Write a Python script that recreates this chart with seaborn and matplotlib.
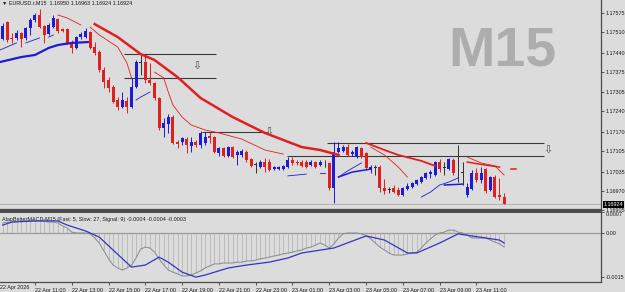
import numpy as np
import pandas as pd
import matplotlib
matplotlib.use("Agg")
import matplotlib.pyplot as plt
import matplotlib.transforms as mtransforms
import seaborn as sns

# ---------------- data ----------------
opens = [1.17486, 1.17544, 1.17490, 1.17490, 1.17507, 1.17490, 1.17524, 1.17551, 1.17568, 1.17531,
         1.17503, 1.17527, 1.17554, 1.17520, 1.17520, 1.17476, 1.17456, 1.17493, 1.17493, 1.17510,
         1.17459, 1.17442, 1.17381, 1.17347, 1.17323, 1.17279, 1.17255, 1.17276, 1.17255, 1.17323,
         1.17406, 1.17408, 1.17347, 1.17337, 1.17286, 1.17184, 1.17197, 1.17221, 1.17136, 1.17136,
         1.17146, 1.17123, 1.17136, 1.17126, 1.17133, 1.17157, 1.17153, 1.17099, 1.17116, 1.17089,
         1.17119, 1.17092, 1.17092, 1.17102, 1.17078, 1.17058, 1.17051, 1.17068, 1.17068, 1.17044,
         1.17044, 1.17044, 1.17051, 1.17075, 1.17068, 1.17068, 1.17068, 1.17058, 1.17068, 1.17058,
         1.17068, 1.17065, 1.16980, 1.17102, 1.17106, 1.17119, 1.17095, 1.17085, 1.17116, 1.17099,
         1.17044, 1.17048, 1.17051, 1.16980, 1.16973, 1.16980, 1.16973, 1.16956, 1.16976, 1.16983,
         1.16993, 1.17000, 1.17014, 1.17027, 1.17024, 1.17068, 1.17048, 1.17044, 1.17075, 1.17034,
         1.17031, 1.16956, 1.16976, 1.17031, 1.17007, 1.17044, 1.16973, 1.17017, 1.16956, 1.16950]
closes = [1.17531, 1.17483, 1.17486, 1.17507, 1.17486, 1.17524, 1.17551, 1.17568, 1.17527, 1.17500,
          1.17534, 1.17558, 1.17514, 1.17514, 1.17473, 1.17456, 1.17493, 1.17503, 1.17514, 1.17456,
          1.17439, 1.17381, 1.17340, 1.17320, 1.17272, 1.17255, 1.17279, 1.17255, 1.17323, 1.17408,
          1.17406, 1.17347, 1.17337, 1.17286, 1.17184, 1.17201, 1.17221, 1.17133, 1.17129, 1.17150,
          1.17126, 1.17136, 1.17126, 1.17167, 1.17153, 1.17150, 1.17102, 1.17116, 1.17089, 1.17119,
          1.17085, 1.17102, 1.17106, 1.17075, 1.17055, 1.17058, 1.17068, 1.17051, 1.17041, 1.17051,
          1.17051, 1.17055, 1.17075, 1.17065, 1.17065, 1.17055, 1.17051, 1.17068, 1.17051, 1.17068,
          1.17068, 1.16980, 1.17102, 1.17116, 1.17119, 1.17092, 1.17102, 1.17119, 1.17085, 1.17048,
          1.17051, 1.17048, 1.16980, 1.16970, 1.16973, 1.16966, 1.16956, 1.16980, 1.16987, 1.16997,
          1.17007, 1.17017, 1.17031, 1.17034, 1.17068, 1.17044, 1.17048, 1.17078, 1.17031, 1.17034,
          1.17031, 1.16983, 1.17031, 1.17007, 1.17031, 1.16970, 1.17017, 1.16949, 1.16949, 1.16924]
highs = [1.17541, 1.17548, 1.17507, 1.17517, 1.17510, 1.17527, 1.17558, 1.17575, 1.17588, 1.17534,
         1.17541, 1.17568, 1.17558, 1.17524, 1.17524, 1.17483, 1.17497, 1.17510, 1.17524, 1.17514,
         1.17476, 1.17449, 1.17391, 1.17357, 1.17330, 1.17289, 1.17306, 1.17289, 1.17354, 1.17415,
         1.17432, 1.17429, 1.17405, 1.17340, 1.17289, 1.17218, 1.17231, 1.17228, 1.17143, 1.17153,
         1.17153, 1.17153, 1.17143, 1.17174, 1.17170, 1.17170, 1.17157, 1.17119, 1.17119, 1.17123,
         1.17123, 1.17109, 1.17112, 1.17109, 1.17082, 1.17068, 1.17075, 1.17082, 1.17078, 1.17055,
         1.17055, 1.17058, 1.17085, 1.17085, 1.17075, 1.17075, 1.17075, 1.17075, 1.17072, 1.17075,
         1.17075, 1.17068, 1.17136, 1.17136, 1.17126, 1.17129, 1.17109, 1.17123, 1.17119, 1.17102,
         1.17058, 1.17058, 1.17058, 1.17010, 1.16983, 1.16990, 1.16983, 1.16983, 1.16997, 1.17000,
         1.17010, 1.17021, 1.17034, 1.17041, 1.17072, 1.17078, 1.17068, 1.17082, 1.17082, 1.17126,
         1.17068, 1.16997, 1.17041, 1.17048, 1.17051, 1.17048, 1.17021, 1.17024, 1.17014, 1.16963]
lows = [1.17483, 1.17476, 1.17473, 1.17483, 1.17459, 1.17483, 1.17500, 1.17544, 1.17524, 1.17473,
        1.17500, 1.17524, 1.17507, 1.17510, 1.17469, 1.17439, 1.17452, 1.17486, 1.17490, 1.17452,
        1.17432, 1.17374, 1.17320, 1.17306, 1.17269, 1.17245, 1.17252, 1.17235, 1.17252, 1.17320,
        1.17364, 1.17337, 1.17330, 1.17279, 1.17177, 1.17153, 1.17167, 1.17129, 1.17116, 1.17126,
        1.17099, 1.17102, 1.17119, 1.17116, 1.17126, 1.17133, 1.17099, 1.17089, 1.17085, 1.17085,
        1.17082, 1.17058, 1.17085, 1.17068, 1.17051, 1.17031, 1.17048, 1.17034, 1.17038, 1.17041,
        1.17041, 1.17041, 1.17048, 1.17058, 1.17058, 1.17051, 1.17048, 1.17055, 1.17048, 1.17055,
        1.17051, 1.16973, 1.16929, 1.17099, 1.17102, 1.17089, 1.17089, 1.17082, 1.17082, 1.17041,
        1.17031, 1.17024, 1.16966, 1.16959, 1.16963, 1.16963, 1.16953, 1.16953, 1.16973, 1.16980,
        1.16990, 1.16997, 1.17010, 1.17014, 1.17021, 1.17034, 1.17024, 1.17041, 1.17024, 1.17000,
        1.16990, 1.16949, 1.16973, 1.17000, 1.16997, 1.16963, 1.16970, 1.16946, 1.16939, 1.16924]

# moving-average style segments: (bar index, price)
ma_red_thick_idx = [20, 25, 30, 33, 38, 43, 50, 57, 65, 69, 73]
ma_red_thick_val = [1.17537, 1.17493, 1.17435, 1.17415, 1.17357, 1.17286, 1.17221, 1.17167, 1.17119, 1.17109, 1.17092]
ma_red_mid_idx = [79, 83, 86, 91, 94]
ma_red_mid_val = [1.17133, 1.17109, 1.17092, 1.17072, 1.17055]
ma_red_mid2_idx = [101, 104, 108]
ma_red_mid2_val = [1.17068, 1.17060, 1.17051]
ma_red_dash_idx = [110.4, 111.5]
ma_red_dash_val = [1.17044, 1.17044]
ma_red_thin_a_idx = [12, 14, 17]
ma_red_thin_a_val = [1.17568, 1.17558, 1.17534]
ma_red_thin_b_idx = [19, 21, 25, 27, 28]
ma_red_thin_b_val = [1.17527, 1.17500, 1.17459, 1.17405, 1.17354]
ma_red_thin_c_idx = [33, 35, 36, 37, 39, 41, 44, 47, 52, 57, 61]
ma_red_thin_c_val = [1.17374, 1.17354, 1.17306, 1.17262, 1.17221, 1.17194, 1.17177, 1.17167, 1.17146, 1.17109, 1.17095]
ma_red_thin_d_idx = [80, 83, 86, 88]
ma_red_thin_d_val = [1.17119, 1.17092, 1.17051, 1.17017]
ma_red_thin_e_idx = [101, 104, 107, 109]
ma_red_thin_e_val = [1.17085, 1.17065, 1.17055, 1.17024]

ma_blue_thick_idx = [-0.6, 4, 7, 10, 12, 15, 18.5]
ma_blue_thick_val = [1.17408, 1.17425, 1.17432, 1.17456, 1.17466, 1.17473, 1.17476]
ma_blue_thick2_idx = [73, 76, 80]
ma_blue_thick2_val = [1.17017, 1.17034, 1.17044]
ma_blue_thick3_idx = [96, 100]
ma_blue_thick3_val = [1.16990, 1.16993]
ma_blue_thin_segments = [
    ([-0.6, 3], [1.17449, 1.17473]),
    ([5, 8], [1.17473, 1.17490]),
    ([10, 11], [1.17493, 1.17500]),
    ([29, 30, 32], [1.17279, 1.17289, 1.17306]),
    ([62, 66], [1.17021, 1.17027]),
    ([69, 70], [1.17031, 1.17031]),
    ([73, 75, 78], [1.17017, 1.17038, 1.17065]),
    ([91, 93, 95, 97, 99], [1.16949, 1.16966, 1.16990, 1.17000, 1.17014]),
]

# horizontal level lines: (price, start idx, end idx)
levels = [(1.17435, 26.4, 46.4), (1.17354, 26.4, 46.4), (1.17170, 43.4, 57.5),
          (1.17134, 70.5, 117.7), (1.17089, 61.8, 117.7)]
arrows = [(42.3, 1.17395), (57.9, 1.17170), (118.6, 1.17109)]

price_ticks = [1.17575, 1.17510, 1.17440, 1.17375, 1.17305, 1.17240, 1.17170, 1.17105, 1.17035, 1.16970, 1.16905]
last_price = 1.16924

macd = [0.00034, 0.00037, 0.00037, 0.00039, 0.00041, 0.00041, 0.00041, 0.00041, 0.00041, 0.00039,
        0.00037, 0.00037, 0.00034, 0.00024, 0.00017, 0.00003, 0.0, 0.0, 0.0, -0.00003,
        -0.00017, -0.00034, -0.00061, -0.00088, -0.00109, -0.00119, -0.00126, -0.00119, -0.00109, -0.00085,
        -0.00054, -0.00048, -0.00051, -0.00065, -0.00088, -0.00109, -0.00126, -0.00133, -0.00139, -0.00146,
        -0.00146, -0.00143, -0.00136, -0.00129, -0.00119, -0.00112, -0.00105, -0.00105, -0.00102, -0.00102,
        -0.00102, -0.00099, -0.00099, -0.00095, -0.00095, -0.00092, -0.00088, -0.00085, -0.00082, -0.00078,
        -0.00075, -0.00071, -0.00068, -0.00065, -0.00061, -0.00058, -0.00051, -0.00048, -0.00041, -0.00034,
        -0.00041, -0.00051, -0.00037, -0.00017, -0.00003, 0.0, 0.0, 0.0, -0.00003, -0.00010,
        -0.00020, -0.00034, -0.00048, -0.00058, -0.00068, -0.00075, -0.00075, -0.00075, -0.00071, -0.00068,
        -0.00065, -0.00051, -0.00034, -0.00020, -0.00007, 0.0, 0.00003, 0.00010, 0.00010, 0.00003,
        0.0, -0.00007, -0.00017, -0.00017, -0.00017, -0.00017, -0.00024, -0.00031, -0.00037, -0.00048]
signal_idx = [0, 2, 7, 12, 14, 18, 21, 24, 28, 31, 34, 36, 39, 42, 44, 49, 53, 58, 62, 65,
              72, 79, 83, 88, 90, 95, 99, 102, 108, 109]
signal_val = [0.00027, 0.00037, 0.00041, 0.00041, 0.00027, 0.00007, -0.00014, -0.00058, -0.00116, -0.00109,
              -0.00082, -0.00099, -0.00133, -0.00150, -0.00143, -0.00119, -0.00109, -0.00099, -0.00085, -0.00068,
              -0.00051, -0.00010, -0.00024, -0.00068, -0.00068, -0.00034, -0.00003, -0.00010, -0.00024, -0.00034]
macd_ticks = [0.0007, 0.0, -0.0015]
macd_tick_labels = ["0.0007", "0.00", "-0.0015"]

time_tick_idx = [7, 15, 23, 31, 39, 47, 55, 63, 71, 79, 87, 95, 103]
time_tick_labels = ["22 Apr 11:00", "22 Apr 13:00", "22 Apr 15:00", "22 Apr 17:00", "22 Apr 19:00",
                    "22 Apr 21:00", "22 Apr 23:00", "23 Apr 01:00", "23 Apr 03:00", "23 Apr 05:00",
                    "23 Apr 07:00", "23 Apr 09:00", "23 Apr 11:00"]
first_date_label = "22 Apr 2026"

header = "\u25bc EURUSD.r,M15  1.16950 1.16963 1.16924 1.16924"
macd_title = "AlapBetterMACD-M15 (Fast: 5, Slow: 27, Signal: 9) -0.0004 -0.0004 -0.0003"

# ---------------- style ----------------
BG = "#dcdcdc"
RED = "#e0201e"
BLUE = "#1c1cd8"
DARK = "#3a3a3a"
plt.rcParams["font.family"] = ["Liberation Sans", "DejaVu Sans"]
FS = 3.9

fig = plt.figure(figsize=(6.25, 2.92), dpi=100)
fig.patch.set_facecolor(BG)
ax = fig.add_axes([0, 82 / 292, 601 / 625, 210 / 292])
ax2 = fig.add_axes([0, 10 / 292, 601 / 625, 70 / 292], sharex=ax)
for a in (ax, ax2):
    a.set_facecolor(BG)
    for s in ("left", "top"):
        a.spines[s].set_visible(False)
    a.spines["right"].set_color("#4a4a4a")
    a.spines["right"].set_linewidth(0.9)
    a.spines["bottom"].set_color("#4a4a4a")
ax.spines["bottom"].set_linewidth(1.6)
ax2.spines["top"].set_visible(True)
ax2.spines["top"].set_color("#4a4a4a")
ax2.spines["top"].set_linewidth(1.4)
ax2.spines["bottom"].set_linewidth(0.9)

n = len(opens)
idx = np.arange(n)
df = pd.DataFrame({"i": idx, "o": opens, "h": highs, "l": lows, "c": closes})

# ---------------- main panel ----------------
ax.axhline(last_price, color="#ababab", lw=0.6, zorder=1)

colors = [BLUE if c > o else (RED if c < o else "#303030") for o, c in zip(df.o, df.c)]
ax.vlines(df.i, df.l, df.h, colors=colors, lw=0.7, zorder=3)
body_bottom = np.minimum(df.o, df.c)
body_h = np.maximum(np.abs(df.c - df.o), 0.000018)
ax.bar(df.i, body_h, bottom=body_bottom, width=0.62, color=colors, linewidth=0, zorder=4)

def seg(a, xs, ys, color, lw):
    sns.lineplot(x=xs, y=ys, ax=a, color=color, linewidth=lw, legend=False, sort=False, zorder=5)

seg(ax, ma_red_thick_idx, ma_red_thick_val, RED, 1.8)
seg(ax, ma_red_mid_idx, ma_red_mid_val, RED, 1.3)
seg(ax, ma_red_mid2_idx, ma_red_mid2_val, RED, 1.1)
seg(ax, ma_red_dash_idx, ma_red_dash_val, RED, 1.1)
for xs, ys in [(ma_red_thin_a_idx, ma_red_thin_a_val), (ma_red_thin_b_idx, ma_red_thin_b_val),
               (ma_red_thin_c_idx, ma_red_thin_c_val), (ma_red_thin_d_idx, ma_red_thin_d_val),
               (ma_red_thin_e_idx, ma_red_thin_e_val)]:
    seg(ax, xs, ys, RED, 0.6)
seg(ax, ma_blue_thick_idx, ma_blue_thick_val, BLUE, 1.6)
seg(ax, ma_blue_thick2_idx, ma_blue_thick2_val, BLUE, 1.1)
seg(ax, ma_blue_thick3_idx, ma_blue_thick3_val, BLUE, 1.1)
for xs, ys in ma_blue_thin_segments:
    seg(ax, xs, ys, BLUE, 0.6)

for p, x0, x1 in levels:
    ax.hlines(p, x0, x1, color=DARK, lw=0.8, zorder=2)
for xa, pa in arrows:
    ax.text(xa, pa, "\u21e9", ha="center", va="center", fontsize=8, color="#505050",
            family=["DejaVu Sans"], zorder=6)

ax.text(0.835, 0.755, "M15", transform=ax.transAxes, ha="center", va="center",
        fontsize=40, fontweight="bold", color="#adadad", zorder=0)
ax.text(0.004, 0.998, header, transform=ax.transAxes, ha="left", va="top",
        fontsize=FS, color="#1a1a1a", family=["Liberation Sans", "DejaVu Sans"])

ax.set_xlim(-0.59, 130.07)
ax.set_ylim(1.16905, 1.17619)
ax.yaxis.tick_right()
ax.set_yticks(price_ticks)
ax.set_yticklabels([f"{t:.5f}" for t in price_ticks])
ax.tick_params(axis="y", direction="out", length=2, width=0.5, pad=1.5, labelsize=FS,
               colors="#1a1a1a")
ax.tick_params(axis="x", bottom=False, labelbottom=False)
ax.set_xlabel("")
ax.set_ylabel("")

trans = mtransforms.blended_transform_factory(ax.transAxes, ax.transData)
ax.text(1.004, last_price, f"{last_price:.5f}", transform=trans, ha="left", va="center",
        fontsize=FS, color="white", zorder=10,
        bbox=dict(boxstyle="square,pad=0.15", fc="black", ec="black", lw=0))

# ---------------- MACD panel ----------------
ax2.axhline(0, color="#9a9a9a", lw=0.9, zorder=1)
ax2.vlines(idx, 0, macd, color="#aaaaaa", lw=0.45, zorder=2)
seg(ax2, list(idx), macd, "#8a8a8a", 0.7)
seg(ax2, signal_idx, signal_val, "#3434c4", 0.9)
ax2.text(0.004, 0.93, macd_title, transform=ax2.transAxes, ha="left", va="top",
         fontsize=FS, color="#1a1a1a")
ax2.set_ylim(-0.001666, 0.000714)
ax2.yaxis.tick_right()
ax2.set_yticks(macd_ticks)
ax2.set_yticklabels(macd_tick_labels)
ax2.tick_params(axis="y", direction="out", length=2, width=0.5, pad=1.5, labelsize=FS,
                colors="#1a1a1a")
for lab in ax2.get_yticklabels():
    if lab.get_text() == "0.0007":
        lab.set_va("top")
ax2.set_xticks(time_tick_idx)
ax2.set_xticklabels(time_tick_labels, ha="left")
ax2.tick_params(axis="x", direction="out", length=2.5, width=0.5, pad=1.5, labelsize=FS,
                colors="#1a1a1a")
ax2.text(-0.59, -0.00176, first_date_label, ha="left", va="top", fontsize=FS, color="#1a1a1a",
         clip_on=False)
ax2.set_xlabel("")
ax2.set_ylabel("")

fig.savefig("out.png", dpi=100, facecolor=BG)
